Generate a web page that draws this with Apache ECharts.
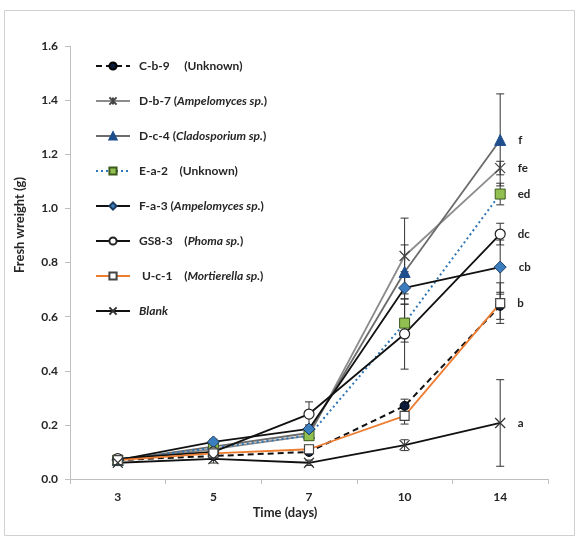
<!DOCTYPE html>
<html>
<head>
<meta charset="utf-8">
<script src="https://cdn.jsdelivr.net/npm/echarts@6/dist/echarts.min.js"></script>
<style>
  html, body { margin: 0; padding: 0; background: #fff; }
  #chart { width: 578px; height: 539px; }
</style>
</head>
<body>
<div id="chart"></div>
<script>
// days (category axis, evenly spaced like the original)
var days = ['3', '5', '7', '10', '14'];

// fresh weight means (g)
var cb9  = [0.07, 0.085, 0.10, 0.27, 0.64];
var db7  = [0.07, 0.11, 0.16, 0.824, 1.149];
var dc4  = [0.07, 0.12, 0.17, 0.765, 1.253];
var ea2  = [0.07, 0.115, 0.16, 0.576, 1.053];
var fa3  = [0.07, 0.137, 0.185, 0.706, 0.783];
var gs83 = [0.075, 0.10, 0.24, 0.536, 0.905];
var uc1  = [0.07, 0.095, 0.11, 0.233, 0.65];
var blank = [0.06, 0.074, 0.06, 0.125, 0.207];

// error bar half widths
var cb9Err  = [0.01, 0.01, 0.01, 0.025, 0.05];
var db7Err  = [0.01, 0.01, 0.015, 0.14, 0.025];
var dc4Err  = [0.01, 0.01, 0.015, 0.10, 0.17];
var ea2Err  = [0.01, 0.01, 0.015, 0.07, 0.04];
var fa3Err  = [0.01, 0.01, 0.015, 0.06, 0.10];
var gs83Err = [0.01, 0.015, 0.045, 0.13, 0.04];
var uc1Err  = [0.01, 0.01, 0.015, 0.03, 0.075];
var blankErr = [0.01, 0.015, 0.01, 0.02, 0.16];

// significance letters at day 14
var letters = { 'D-c-4': 'f', 'D-b-7': 'fe', 'E-a-2': 'ed', 'GS8-3': 'dc', 'F-a-3': 'cb', 'U-c-1': 'b', 'Blank': 'a' };

var yTicks = { min: 0, max: 1.6, interval: 0.2 };

var FONT = 'Lato';
var starPath = 'path://M0,0L10,10M10,0L0,10M5,0L5,10';
var crossPath = 'path://M0,0L10,10M10,0L0,10';

var strains = [
    { name: 'C-b-9', data: cb9, err: cb9Err, line: { color: '#111', width: 2, type: [6, 4] },
      symbol: 'circle', size: 9, item: { color: '#0d1b3a', borderColor: '#000', borderWidth: 1 } },
    { name: 'D-b-7', data: db7, err: db7Err, line: { color: '#8c8c8c', width: 1.8 },
      symbol: starPath, size: 10, item: { color: 'rgba(0,0,0,0)', borderColor: '#444', borderWidth: 1.2 } },
    { name: 'D-c-4', data: dc4, err: dc4Err, line: { color: '#6b6b6b', width: 1.8 },
      symbol: 'triangle', size: 11, item: { color: '#1f4e8c', borderColor: '#1f4e8c', borderWidth: 1 } },
    { name: 'E-a-2', data: ea2, err: ea2Err, line: { color: '#2e75b6', width: 2, type: [2, 3] },
      symbol: 'rect', size: 10, item: { color: '#92c050', borderColor: '#3d5a1e', borderWidth: 1 } },
    { name: 'F-a-3', data: fa3, err: fa3Err, line: { color: '#111', width: 1.8 },
      symbol: 'diamond', size: 12, item: { color: '#3b7ec0', borderColor: '#1d3b5e', borderWidth: 1 } },
    { name: 'GS8-3', data: gs83, err: gs83Err, line: { color: '#111', width: 1.8 },
      symbol: 'circle', size: 10, item: { color: '#fff', borderColor: '#222', borderWidth: 1.2 } },
    { name: 'U-c-1', data: uc1, err: uc1Err, line: { color: '#ed7d31', width: 1.8 },
      symbol: 'rect', size: 9, item: { color: '#fff', borderColor: '#444', borderWidth: 1.2 } },
    { name: 'Blank', data: blank, err: blankErr, line: { color: '#111', width: 1.8 },
      symbol: crossPath, size: 10, item: { color: 'rgba(0,0,0,0)', borderColor: '#333', borderWidth: 1.2 } }
];

var legendText = {
    'C-b-9': '{b|C-b-9     (Unknown)}',
    'D-b-7': '{b|D-b-7 (}{i|Ampelomyces sp.}{b|)}',
    'D-c-4': '{b|D-c-4 (}{i|Cladosporium sp.}{b|)}',
    'E-a-2': '{b|E-a-2    (Unknown)}',
    'F-a-3': '{b|F-a-3 (}{i|Ampelomyces sp.}{b|)}',
    'GS8-3': '{b|GS8-3    (}{i|Phoma sp.}{b|)}',
    'U-c-1': '{b| U-c-1    (}{i|Mortierella sp.}{b|)}',
    'Blank': '{i|Blank}'
};

var series = [];
strains.forEach(function (s) {
    // error bars
    series.push({
        type: 'custom',
        name: s.name + ' err',
        silent: true,
        z: 3,
        data: s.data.map(function (v, i) { return [i, v - s.err[i], v + s.err[i]]; }),
        renderItem: function (params, api) {
            var lo = api.coord([api.value(0), api.value(1)]);
            var hi = api.coord([api.value(0), api.value(2)]);
            var hw = 4;
            var st = { stroke: '#333', lineWidth: 1 };
            return {
                type: 'group',
                children: [
                    { type: 'line', shape: { x1: lo[0], y1: lo[1], x2: hi[0], y2: hi[1] }, style: st },
                    { type: 'line', shape: { x1: lo[0] - hw, y1: lo[1], x2: lo[0] + hw, y2: lo[1] }, style: st },
                    { type: 'line', shape: { x1: hi[0] - hw, y1: hi[1], x2: hi[0] + hw, y2: hi[1] }, style: st }
                ]
            };
        }
    });
    var last = s.data.length - 1;
    series.push({
        type: 'line',
        name: s.name,
        z: 4,
        symbol: s.symbol,
        symbolSize: s.size,
        showAllSymbol: true,
        lineStyle: s.line,
        itemStyle: s.item,
        data: s.data.map(function (v, i) {
            if (i === last && letters[s.name]) {
                return {
                    value: v,
                    label: {
                        show: true, position: 'right', distance: 12,
                        formatter: letters[s.name],
                        color: '#262626', fontFamily: FONT, fontWeight: 'bold', fontSize: 11.5
                    }
                };
            }
            return v;
        })
    });
});

var chart = echarts.init(document.getElementById('chart'));
chart.setOption({
    backgroundColor: '#fff',
    animation: false,
    grid: { left: 70, right: 30, top: 46, bottom: 60 },
    legend: {
        data: strains.map(function (s) { return s.name; }),
        orient: 'vertical',
        left: 90,
        top: 55,
        itemWidth: 34,
        itemHeight: 9,
        itemGap: 23,
        formatter: function (name) { return legendText[name]; },
        textStyle: {
            padding: [0, 0, 0, 4],
            rich: {
                b: { fontFamily: FONT, fontWeight: 'bold', fontSize: 12, color: '#262626' },
                i: { fontFamily: FONT, fontWeight: 'bold', fontStyle: 'italic', fontSize: 12, color: '#262626' }
            }
        }
    },
    xAxis: {
        type: 'category',
        data: days,
        boundaryGap: true,
        axisLine: { lineStyle: { color: '#bfbfbf', width: 1 } },
        axisTick: { show: true, length: 5, lineStyle: { color: '#bfbfbf' } },
        axisLabel: { color: '#262626', fontFamily: FONT, fontWeight: 'bold', fontSize: 12, margin: 12 }
    },
    yAxis: {
        type: 'value',
        min: yTicks.min,
        max: yTicks.max,
        interval: yTicks.interval,
        splitLine: { show: false },
        axisLine: { show: true, lineStyle: { color: '#bfbfbf', width: 1 } },
        axisTick: { show: true, length: 5, lineStyle: { color: '#bfbfbf' } },
        axisLabel: {
            color: '#262626', fontFamily: FONT, fontWeight: 'bold', fontSize: 12, margin: 12,
            formatter: function (v) { return v.toFixed(1); }
        }
    },
    graphic: [
        {
            type: 'rect', left: 2, top: 8, z: -1, silent: true,
            shape: { width: 570, height: 525 },
            style: { fill: 'none', stroke: '#d0d0d0', lineWidth: 1 }
        },
        {
            type: 'text', x: 20, y: 225, rotation: Math.PI / 2,
            style: {
                text: 'Fresh wreight (g)', fill: '#262626',
                font: 'bold 13px ' + FONT, align: 'center', verticalAlign: 'middle'
            }
        },
        {
            type: 'text', x: 285, y: 513,
            style: {
                text: 'Time (days)', fill: '#262626',
                font: 'bold 13px ' + FONT, align: 'center', verticalAlign: 'middle'
            }
        }
    ],
    series: series
});
</script>
</body>
</html>
